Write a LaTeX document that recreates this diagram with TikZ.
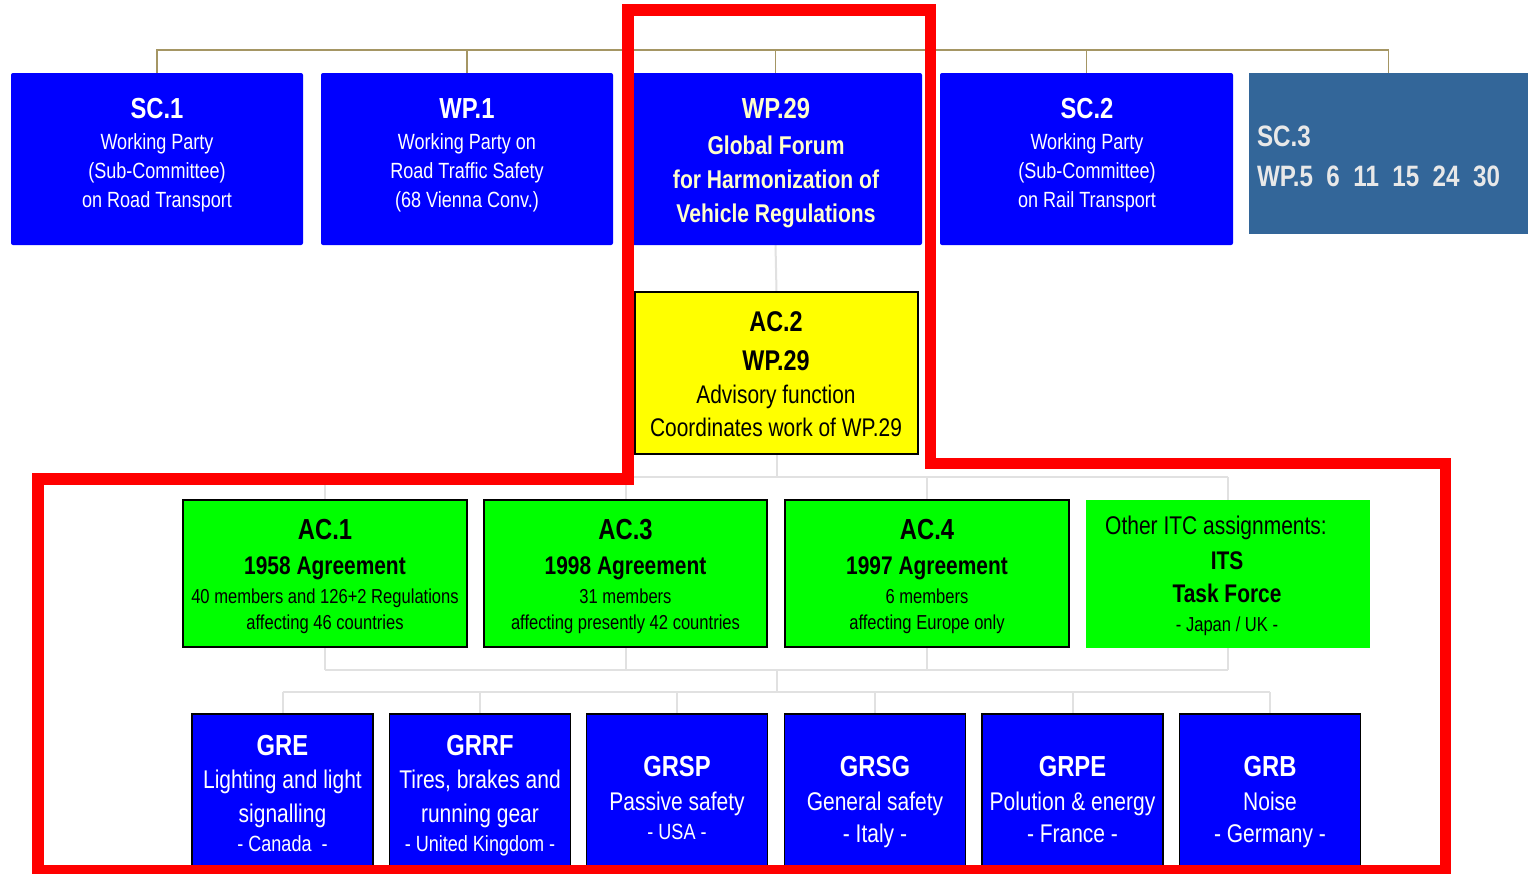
\documentclass[tikz,border=0pt]{standalone}
\usepackage{fontspec}
\setmainfont{Liberation Sans}[FakeStretch=0.82]
\usetikzlibrary{backgrounds}
\definecolor{bxblue}{RGB}{0,0,255}
\definecolor{sctblue}{RGB}{51,102,153}
\definecolor{tanline}{RGB}{165,150,100}
\definecolor{conngray}{RGB}{225,225,225}
\definecolor{palyellow}{RGB}{255,255,204}
\definecolor{sctext}{RGB}{232,232,232}
\definecolor{grn}{RGB}{0,255,0}
\definecolor{ylw}{RGB}{255,255,0}
\tikzset{
  boxbase/.style={inner sep=0pt, outer sep=0pt},
  topbox/.style={boxbase, fill=bxblue, rounded corners=2pt},
  sctbox/.style={boxbase, fill=sctblue},
  advbox/.style={boxbase, fill=ylw, draw=black, line width=1.2pt},
  agrbox/.style={boxbase, fill=grn, draw=black, line width=1.2pt},
  itsbox/.style={boxbase, fill=grn},
  grbox/.style={boxbase, fill=bxblue, draw=black, line width=1.2pt},
  tl/.style={inner sep=0pt, outer sep=0pt, anchor=base},
  wt/.style={text=white},
  yt/.style={text=palyellow},
  st/.style={text=sctext, anchor=base west},
  kt/.style={text=black},
  bf/.style={font=\bfseries},
  tanconn/.style={draw=tanline, line width=1.6pt},
  grayconn/.style={draw=conngray, line width=2pt},
  redframe/.style={draw=red, line width=11.5pt, line join=miter}
}
\newcommand\tline[6]{\node[tl,#4] (#1) at ({#2},{#3+0.358*#5}) {\fontsize{#5}{#5}\selectfont #6};}
\begin{document}
\begin{tikzpicture}[x=1pt,y=-1pt]
\useasboundingbox (0,0) rectangle (1528,873);
% top row
\node[topbox, minimum width=292pt, minimum height=172pt] (sc1) at (157,159) {};
\node[topbox, minimum width=292pt, minimum height=172pt] (wp1) at (467,159) {};
\node[topbox, minimum width=293pt, minimum height=172pt] (wp29) at (775.5,159) {};
\node[topbox, minimum width=293pt, minimum height=172pt] (sc2) at (1086.5,159) {};
\node[sctbox, minimum width=279pt, minimum height=161pt] (sc3) at (1388.5,153.5) {};
\coordinate (tb) at (776,50);
% advisory
\node[advbox, minimum width=283pt, minimum height=162pt] (ac2) at (776.5,373) {};
% agreements
\node[agrbox, minimum width=284pt, minimum height=147pt] (ac1) at (325,573.5) {};
\node[agrbox, minimum width=283pt, minimum height=147pt] (ac3) at (625.5,573.5) {};
\node[agrbox, minimum width=284pt, minimum height=147pt] (ac4) at (927,573.5) {};
\node[itsbox, minimum width=284pt, minimum height=148pt] (its) at (1228,574) {};
\coordinate (barA) at (776,477);
\coordinate (barB) at (776,670);
\coordinate (barC) at (776,692);
% working parties
\node[grbox, minimum width=181pt, minimum height=158pt] (gre) at (282.5,793) {};
\node[grbox, minimum width=181pt, minimum height=158pt] (grrf) at (480,793) {};
\node[grbox, minimum width=181pt, minimum height=158pt] (grsp) at (677,793) {};
\node[grbox, minimum width=181pt, minimum height=158pt] (grsg) at (875,793) {};
\node[grbox, minimum width=181pt, minimum height=158pt] (grpe) at (1072.5,793) {};
\node[grbox, minimum width=181pt, minimum height=158pt] (grb) at (1270,793) {};
% connectors
\begin{scope}[on background layer]
\fill[white] (0,0) rectangle (1528,873);
\draw[tanconn] (sc1.north) -- (sc1.north |- tb) -- (sc3.north |- tb) -- (sc3.north);
\draw[tanconn] (wp1.north) -- (wp1.north |- tb);
\draw[tanconn] (wp29.north) -- (wp29.north |- tb);
\draw[tanconn] (sc2.north) -- (sc2.north |- tb);
\draw[grayconn] (wp29.south) -- (ac2.north);
\draw[grayconn] (ac2.south) -- (ac2.south |- barA);
\draw[grayconn] (ac1.north |- barA) -- (its.north |- barA);
\foreach \n in {ac1,ac3,ac4,its} {\draw[grayconn] (\n.north |- barA) -- (\n.south |- barB);}
\draw[grayconn] (ac1.south |- barB) -- (its.south |- barB);
\draw[grayconn] (ac2.south |- barB) -- (ac2.south |- barC);
\draw[grayconn] (gre.north |- barC) -- (grb.north |- barC);
\foreach \n in {gre,grrf,grsp,grsg,grpe,grb} {\draw[grayconn] (\n.north |- barC) -- (\n.north);}
\end{scope}
% texts top row
\tline{sc1a}{157}{108}{wt,bf}{29}{SC.1}
\tline{sc1b}{157}{142}{wt}{22}{Working Party}
\tline{sc1c}{157}{171}{wt}{22}{(Sub-Committee)}
\tline{sc1d}{157}{200}{wt}{22}{on Road Transport}
\tline{wp1a}{467}{108}{wt,bf}{29}{WP.1}
\tline{wp1b}{467}{142}{wt}{22}{Working Party on}
\tline{wp1c}{467}{171}{wt}{22}{Road Traffic Safety}
\tline{wp1d}{467}{200}{wt}{22}{(68 Vienna Conv.)}
\tline{wp29a}{776}{108}{yt,bf}{29}{WP.29}
\tline{wp29b}{776}{145}{yt,bf}{25.7}{Global Forum}
\tline{wp29c}{776}{179}{yt,bf}{25.7}{for Harmonization of}
\tline{wp29d}{776}{213}{yt,bf}{25.7}{Vehicle Regulations}
\tline{sc2a}{1087}{108}{wt,bf}{29}{SC.2}
\tline{sc2b}{1087}{142}{wt}{22}{Working Party}
\tline{sc2c}{1087}{171}{wt}{22}{(Sub-Committee)}
\tline{sc2d}{1087}{200}{wt}{22}{on Rail Transport}
\tline{sc3a}{1257}{136}{st,bf}{29.5}{SC.3}
\tline{sc3b}{1257}{176}{st,bf}{29.5}{WP.5~~6~~11~~15~~24~~30}
% advisory text
\tline{ac2a}{776}{321}{kt,bf}{28.5}{AC.2}
\tline{ac2b}{776}{360}{kt,bf}{28.5}{WP.29}
\tline{ac2c}{776}{394}{kt}{25.5}{Advisory function}
\tline{ac2d}{776}{427}{kt}{25.5}{Coordinates work of WP.29}
% agreements text
\tline{ac1a}{325}{529.5}{kt,bf}{29}{AC.1}
\tline{ac1b}{325}{565.5}{kt,bf}{25.5}{1958 Agreement}
\tline{ac1c}{325}{596.5}{kt}{20.2}{40 members and 126+2 Regulations}
\tline{ac1d}{325}{622.5}{kt}{20.2}{affecting 46 countries}
\tline{ac3a}{625.5}{529.5}{kt,bf}{29}{AC.3}
\tline{ac3b}{625.5}{565.5}{kt,bf}{25.5}{1998 Agreement}
\tline{ac3c}{625.5}{596.5}{kt}{20.2}{31 members}
\tline{ac3d}{625.5}{622.5}{kt}{20.2}{affecting presently 42 countries}
\tline{ac4a}{927}{529.5}{kt,bf}{29}{AC.4}
\tline{ac4b}{927}{565.5}{kt,bf}{25.5}{1997 Agreement}
\tline{ac4c}{927}{596.5}{kt}{20.2}{6 members}
\tline{ac4d}{927}{622.5}{kt}{20.2}{affecting Europe only}
\tline{itsa}{1216}{525}{kt}{25.6}{Other ITC assignments:}
\tline{itsb}{1227}{560}{kt,bf}{25.5}{ITS}
\tline{itsc}{1227}{593}{kt,bf}{25.5}{Task Force}
\tline{itsd}{1227}{624.5}{kt}{20.2}{- Japan / UK -}
% working party text
\tline{grea}{282.5}{745}{wt,bf}{29}{GRE}
\tline{greb}{282.5}{779.5}{wt}{25.6}{Lighting and light}
\tline{grec}{282.5}{813}{wt}{25.6}{signalling}
\tline{gred}{282.5}{844}{wt}{22}{- Canada~~-}
\tline{grrfa}{480}{745}{wt,bf}{29}{GRRF}
\tline{grrfb}{480}{779.5}{wt}{25.6}{Tires, brakes and}
\tline{grrfc}{480}{813}{wt}{25.6}{running gear}
\tline{grrfd}{480}{844}{wt}{22}{- United Kingdom -}
\tline{grspa}{677}{766}{wt,bf}{29}{GRSP}
\tline{grspb}{677}{801}{wt}{25.6}{Passive safety}
\tline{grspc}{677}{832}{wt}{22}{- USA -}
\tline{grsga}{875}{766}{wt,bf}{29}{GRSG}
\tline{grsgb}{875}{801}{wt}{25.6}{General safety}
\tline{grsgc}{875}{833}{wt}{25.6}{- Italy -}
\tline{grpea}{1072.5}{766}{wt,bf}{29}{GRPE}
\tline{grpeb}{1072.5}{801}{wt}{25.6}{Polution \& energy}
\tline{grpec}{1072.5}{833}{wt}{25.6}{- France -}
\tline{grba}{1270}{766}{wt,bf}{29}{GRB}
\tline{grbb}{1270}{801}{wt}{25.6}{Noise}
\tline{grbc}{1270}{833}{wt}{25.6}{- Germany -}
% red frame
\draw[redframe] (628,10) -- (930.5,10) -- (930.5,463.5) -- (1445.5,463.5) -- (1445.5,871) -- (38,871) -- (38,479) -- (628,479) -- cycle;
\end{tikzpicture}
\end{document}
